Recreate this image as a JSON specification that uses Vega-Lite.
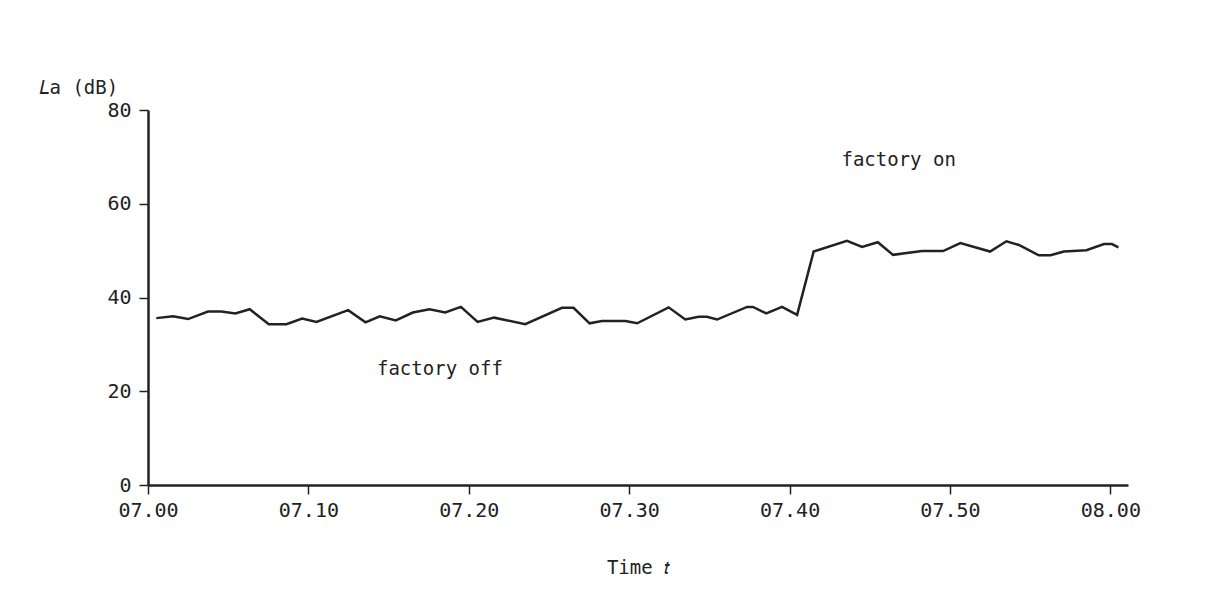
{
  "$schema": "https://vega.github.io/schema/vega-lite/v6.json",
  "autosize": "none",
  "width": 980,
  "height": 375,
  "padding": {"left": 148, "top": 110, "right": 78, "bottom": 118},
  "background": "white",
  "datasets": {
    "series": [
      {"t": 0.52, "v": 35.6}, {"t": 1.56, "v": 36.0}, {"t": 2.5, "v": 35.4}, {"t": 3.74, "v": 37.0},
      {"t": 4.57, "v": 37.0}, {"t": 5.45, "v": 36.6}, {"t": 6.34, "v": 37.5}, {"t": 7.53, "v": 34.3},
      {"t": 8.63, "v": 34.3}, {"t": 9.61, "v": 35.5}, {"t": 10.5, "v": 34.8}, {"t": 12.48, "v": 37.3},
      {"t": 13.56, "v": 34.7}, {"t": 14.45, "v": 36.0}, {"t": 15.45, "v": 35.1}, {"t": 16.51, "v": 36.8},
      {"t": 17.55, "v": 37.5}, {"t": 18.53, "v": 36.8}, {"t": 19.51, "v": 38.0}, {"t": 20.55, "v": 34.8},
      {"t": 21.58, "v": 35.7}, {"t": 23.52, "v": 34.3}, {"t": 25.81, "v": 37.8}, {"t": 26.53, "v": 37.8},
      {"t": 27.53, "v": 34.5}, {"t": 28.3, "v": 35.0}, {"t": 29.76, "v": 35.0}, {"t": 30.5, "v": 34.5},
      {"t": 32.46, "v": 37.9}, {"t": 33.5, "v": 35.3}, {"t": 34.33, "v": 35.9}, {"t": 34.85, "v": 35.9},
      {"t": 35.48, "v": 35.3}, {"t": 37.35, "v": 38.0}, {"t": 37.72, "v": 38.0}, {"t": 38.55, "v": 36.6},
      {"t": 39.53, "v": 38.0}, {"t": 40.47, "v": 36.3}, {"t": 41.5, "v": 49.8}, {"t": 43.58, "v": 52.1},
      {"t": 44.52, "v": 50.8}, {"t": 45.5, "v": 51.8}, {"t": 46.45, "v": 49.1}, {"t": 48.26, "v": 49.9},
      {"t": 49.57, "v": 49.9}, {"t": 50.65, "v": 51.6}, {"t": 52.5, "v": 49.8}, {"t": 53.52, "v": 52.0},
      {"t": 54.3, "v": 51.2}, {"t": 55.54, "v": 49.0}, {"t": 56.27, "v": 49.0}, {"t": 57.1, "v": 49.8},
      {"t": 58.51, "v": 50.1}, {"t": 59.6, "v": 51.4}, {"t": 60.1, "v": 51.4}, {"t": 60.5, "v": 50.7}
    ],
    "notes": [
      {"t": 18.2, "v": 24.7, "label": "factory off"},
      {"t": 46.8, "v": 69.3, "label": "factory on"}
    ]
  },
  "layer": [
    {
      "data": {"name": "series"},
      "mark": {"type": "line", "color": "#222222", "strokeWidth": 2.5, "clip": false},
      "encoding": {
        "x": {
          "field": "t", "type": "quantitative",
          "scale": {"domain": [0, 61.1], "nice": false, "zero": false},
          "axis": {
            "values": [0, 10, 20, 30, 40, 50, 60],
            "labelExpr": "datum.value == 60 ? '08.00' : (datum.value == 0 ? '07.00' : '07.' + datum.value)",
            "labelFlush": false,
            "title": "Time 𝑡",
            "titlePadding": 38,
            "grid": false
          }
        },
        "y": {
          "field": "v", "type": "quantitative",
          "scale": {"domain": [0, 80], "nice": false},
          "axis": {
            "values": [0, 20, 40, 60, 80],
            "title": "𝐿a (dB)",
            "titleAngle": 0,
            "titleAlign": "left",
            "titleBaseline": "alphabetic",
            "titleX": -110,
            "titleY": -17,
            "grid": false
          }
        }
      }
    },
    {
      "data": {"name": "notes"},
      "mark": {"type": "text", "font": "DejaVu Sans Mono", "fontSize": 19, "color": "#222222", "align": "center", "baseline": "middle"},
      "encoding": {
        "x": {"field": "t", "type": "quantitative"},
        "y": {"field": "v", "type": "quantitative"},
        "text": {"field": "label"}
      }
    }
  ],
  "config": {
    "view": {"stroke": null},
    "axis": {
      "domainColor": "#222222",
      "domainWidth": 2.5,
      "tickColor": "#222222",
      "tickWidth": 1.5,
      "tickSize": 9,
      "labelFont": "DejaVu Sans Mono",
      "labelFontSize": 20,
      "labelColor": "#222222",
      "labelPadding": 6,
      "titleFont": "DejaVu Sans Mono",
      "titleFontSize": 19,
      "titleFontWeight": "normal",
      "titleColor": "#222222"
    },
    "axisY": {"labelPadding": 8}
  }
}
